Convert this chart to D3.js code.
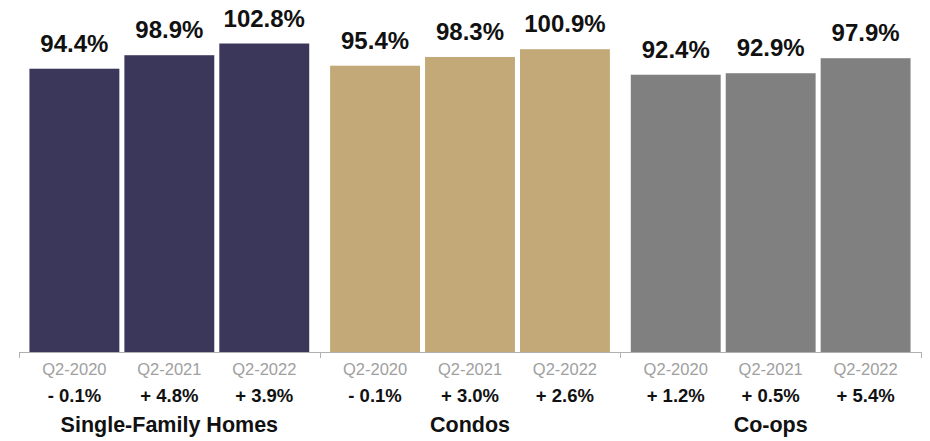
<!DOCTYPE html>
<html>
<head>
<meta charset="utf-8">
<script src="https://cdn.jsdelivr.net/npm/d3@7"></script>
<style>
  html, body { margin: 0; padding: 0; background: #fff; }
  svg { display: block; font-family: "Liberation Sans", Arial, Helvetica, sans-serif; }
</style>
</head>
<body>
<svg id="chart" width="930" height="441"></svg>
<script>
// Property types and periods
const groups = ["Single-Family Homes", "Condos", "Co-ops"];
const periods = ["Q2-2020", "Q2-2021", "Q2-2022"];

// Share of list price achieved (%), one array per property type
const singleFamily = [94.4, 98.9, 102.8];
const condos = [95.4, 98.3, 100.9];
const coops = [92.4, 92.9, 97.9];

// Year-over-year change labels shown under each period
const singleFamilyChange = ["- 0.1%", "+ 4.8%", "+ 3.9%"];
const condosChange = ["- 0.1%", "+ 3.0%", "+ 2.6%"];
const coopsChange = ["+ 1.2%", "+ 0.5%", "+ 5.4%"];

const groupColors = ["#3a375a", "#c3a878", "#808080"];

const seriesValues = [singleFamily, condos, coops];
const seriesChange = [singleFamilyChange, condosChange, coopsChange];

const svg = d3.select("#chart");
const W = 930, H = 441;
const margin = { left: 19, right: 9, top: 0, baseline: 352 };

const x0 = d3.scaleBand()
  .domain(groups)
  .range([margin.left, W - margin.right])
  .padding(0);

const x1 = d3.scaleBand()
  .domain(periods)
  .range([0, x0.bandwidth()])
  .paddingInner(0.053)
  .paddingOuter(0.11);

const y = d3.scaleLinear()
  .domain([0, 117.3])
  .range([margin.baseline, 0]);

const rows = groups.map((g, gi) => ({
  group: g,
  color: groupColors[gi],
  bars: periods.map((p, pi) => ({
    period: p,
    value: seriesValues[gi][pi],
    change: seriesChange[gi][pi]
  }))
}));

const gSel = svg.selectAll("g.group")
  .data(rows)
  .join("g")
  .attr("class", "group")
  .attr("transform", d => `translate(${x0(d.group)},0)`);

// Bars
gSel.selectAll("rect")
  .data(d => d.bars.map(b => ({ ...b, color: d.color })))
  .join("rect")
  .attr("x", d => x1(d.period))
  .attr("width", x1.bandwidth())
  .attr("y", d => y(d.value))
  .attr("height", d => y(0) - y(d.value))
  .attr("fill", d => d.color);

// Value labels above bars
gSel.selectAll("text.value")
  .data(d => d.bars)
  .join("text")
  .attr("class", "value")
  .attr("x", d => x1(d.period) + x1.bandwidth() / 2)
  .attr("y", d => y(d.value) - 17)
  .attr("text-anchor", "middle")
  .attr("font-size", 24)
  .attr("font-weight", "bold")
  .attr("fill", "#111")
  .text(d => d.value.toFixed(1) + "%");

// Period labels
gSel.selectAll("text.period")
  .data(d => d.bars)
  .join("text")
  .attr("class", "period")
  .attr("x", d => x1(d.period) + x1.bandwidth() / 2)
  .attr("y", margin.baseline + 23)
  .attr("text-anchor", "middle")
  .attr("font-size", 16.5)
  .attr("fill", "#a0a0a0")
  .text(d => d.period);

// Change labels
gSel.selectAll("text.change")
  .data(d => d.bars)
  .join("text")
  .attr("class", "change")
  .attr("x", d => x1(d.period) + x1.bandwidth() / 2)
  .attr("y", margin.baseline + 50)
  .attr("text-anchor", "middle")
  .attr("font-size", 18.5)
  .attr("font-weight", "bold")
  .attr("fill", "#111")
  .text(d => d.change);

// Group labels
gSel.append("text")
  .attr("x", x0.bandwidth() / 2)
  .attr("y", margin.baseline + 80)
  .attr("text-anchor", "middle")
  .attr("font-size", 21.5)
  .attr("font-weight", "bold")
  .attr("fill", "#111")
  .text(d => d.group);

// Category axis: baseline with ticks at group boundaries
const axisG = svg.append("g");
axisG.append("line")
  .attr("x1", x0.range()[0]).attr("x2", x0.range()[1])
  .attr("y1", margin.baseline + 0.5).attr("y2", margin.baseline + 0.5)
  .attr("stroke", "#b0b0b0").attr("stroke-width", 1);

const boundaries = groups.map(g => x0(g)).concat([x0(groups[groups.length - 1]) + x0.bandwidth()]);
axisG.selectAll("line.tick")
  .data(boundaries)
  .join("line")
  .attr("class", "tick")
  .attr("x1", d => Math.round(d) + 0.5).attr("x2", d => Math.round(d) + 0.5)
  .attr("y1", margin.baseline).attr("y2", margin.baseline + 6)
  .attr("stroke", "#b0b0b0").attr("stroke-width", 1);
</script>
</body>
</html>
